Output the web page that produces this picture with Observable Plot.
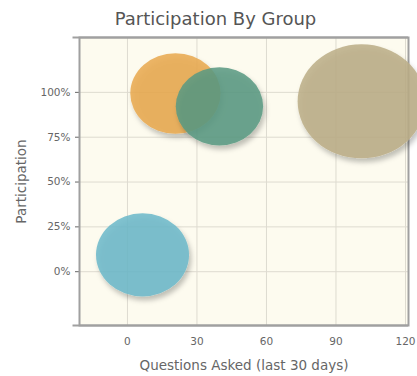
<!DOCTYPE html>
<html>
<head>
<meta charset="utf-8">
<script src="https://cdn.jsdelivr.net/npm/d3@7"></script>
<script src="https://cdn.jsdelivr.net/npm/@observablehq/plot@0.6"></script>
<style>
  html, body { margin: 0; padding: 0; background: #ffffff; }
  #wrap { width: 417px; height: 376px; overflow: hidden; }
  #title { height: 34px; line-height: 37px; text-align: center; padding-left: 14px; font-family: "DejaVu Sans", sans-serif; font-size: 18px; color: #555; }
</style>
</head>
<body>
<div id="wrap">
  <div id="title">Participation By Group</div>
  <div id="chart"></div>
</div>
<script>
const groups = ["Group 1", "Group 2", "Group 3", "Group 4"];
const questions = [6.5, 20.7, 39.7, 101];
const participation = [0.094, 0.994, 0.922, 0.95];
const sizes = [17, 16, 15, 32];
const colors = ["#6cb9c9", "#e9a94f", "#5a9a82", "#bcae87"];
const xTicks = [0, 30, 60, 90, 120];
const yTicks = [0, 0.25, 0.5, 0.75, 1];
const xLabel = "Questions Asked (last 30 days)";
const yLabel = "Participation";

const data = groups.map((g, i) => ({group: g, x: questions[i], y: participation[i], size: sizes[i]}));
const xDomain = [-20.7, 121.3];
const yDomain = [-0.30, 1.306];

const plot = Plot.plot({
  width: 417,
  height: 342,
  marginTop: 3,
  marginBottom: 51,
  marginLeft: 79,
  marginRight: 9,
  style: {fontFamily: "DejaVu Sans, sans-serif", fontSize: "10.5px", color: "#666", background: "transparent", overflow: "visible"},
  x: {domain: xDomain, ticks: xTicks, tickSize: 0, tickPadding: 12, label: null},
  y: {domain: yDomain, ticks: yTicks, tickSize: 4, tickPadding: 5, label: null, tickFormat: d => d3.format(".0%")(d)},
  r: {type: "sqrt", domain: [0, 32], range: [0, 57]},
  color: {domain: groups, range: colors},
  marks: [
    Plot.frame({fill: "#fdfbef"}),
    Plot.ruleX(xTicks, {stroke: "#dedbd0", strokeWidth: 1}),
    Plot.ruleY(yTicks, {stroke: "#dedbd0", strokeWidth: 1}),
    Plot.frame({stroke: "#a0a0a0", strokeWidth: 2}),
    Plot.ruleY([yDomain[0], yDomain[1]], {x1: -23.5, x2: xDomain[1], stroke: "#a0a0a0", strokeWidth: 2}),
    Plot.dot(data, {x: "x", y: "y", r: "size", fill: "group", fillOpacity: 0.86, stroke: "none"}),
    Plot.text([xLabel], {frameAnchor: "bottom", dy: 44, fontSize: 13.5, fill: "#666", textAnchor: "middle"}),
    Plot.text([yLabel], {frameAnchor: "left", dx: -58, rotate: -90, fontSize: 13.5, fill: "#666", textAnchor: "middle"})
  ]
});

// soft drop shadow + slight horizontal stretch of bubbles
const svgNS = "http://www.w3.org/2000/svg";
const defs = document.createElementNS(svgNS, "defs");
defs.innerHTML = '<filter id="bshadow" x="-20%" y="-20%" width="150%" height="150%"><feDropShadow dx="2" dy="4" stdDeviation="2.5" flood-color="#000" flood-opacity="0.28"/></filter>';
plot.insertBefore(defs, plot.firstChild);
const circles = plot.querySelectorAll("circle");
circles.forEach(c => {
  const cx = +c.getAttribute("cx"), cy = +c.getAttribute("cy");
  c.setAttribute("transform", `translate(${cx},${cy}) scale(1.12,1) translate(${-cx},${-cy})`);
  c.setAttribute("filter", "url(#bshadow)");
});
document.getElementById("chart").appendChild(plot);
</script>
</body>
</html>
